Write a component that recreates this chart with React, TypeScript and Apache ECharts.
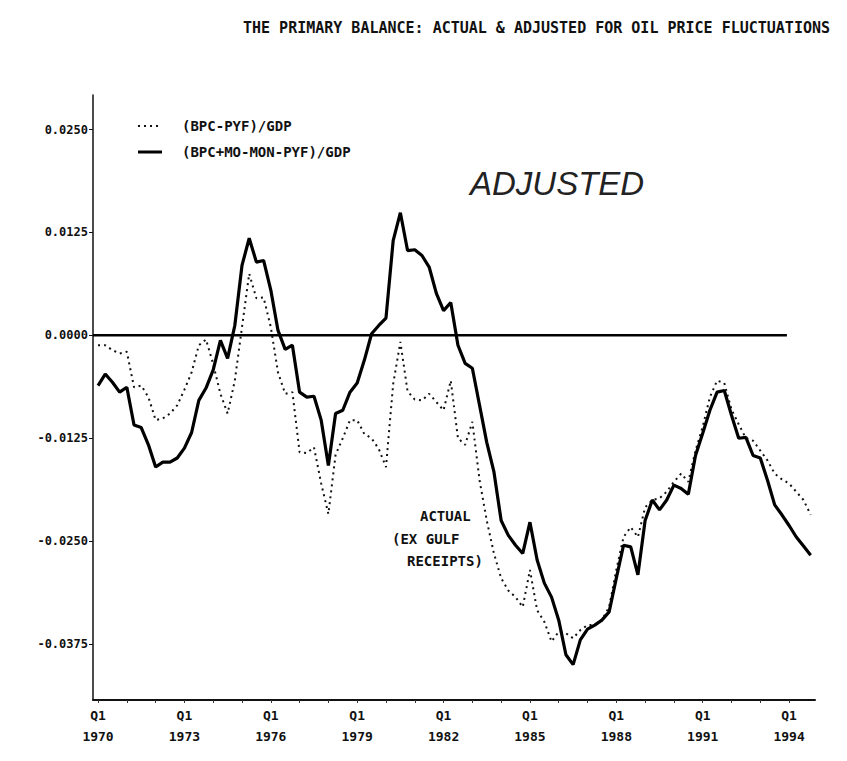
import React, { useEffect, useRef } from "react";
import * as echarts from "echarts";

// Quarter index 0 = 1970 Q1 ... 99 = 1994 Q4
const actualValues = [
  -0.0012, -0.0012, -0.0018, -0.0022, -0.002, -0.0063, -0.0061, -0.0075, -0.0103, -0.0101,
  -0.0095, -0.0085, -0.0066, -0.0045, -0.0012, -0.0005, -0.0035, -0.0071, -0.0095, -0.0055,
  0.001, 0.0075, 0.0045, 0.0046, 0.001, -0.0045, -0.0071, -0.0069, -0.0142, -0.0143,
  -0.0136, -0.018, -0.0217, -0.0145, -0.0125, -0.0103, -0.0103, -0.012, -0.0125, -0.0138,
  -0.016, -0.0059, -0.0008, -0.0068, -0.0078, -0.0079, -0.0071, -0.0081, -0.0091, -0.0055,
  -0.0125, -0.0133, -0.0105, -0.0176, -0.0225, -0.0265, -0.0295, -0.031, -0.0318, -0.033,
  -0.0285, -0.0334, -0.0348, -0.0372, -0.036, -0.0362, -0.0368, -0.0358, -0.0352, -0.0352,
  -0.0346, -0.033, -0.0285, -0.0245, -0.0233, -0.0245, -0.0209, -0.02, -0.0198, -0.019,
  -0.0178, -0.0168, -0.0178, -0.014, -0.0111, -0.0075, -0.0055, -0.0058, -0.009, -0.0108,
  -0.0125, -0.0128, -0.014, -0.0152, -0.0168, -0.0175, -0.018, -0.019, -0.02, -0.0218,
];

const adjustedValues = [
  -0.0061, -0.0047, -0.0057, -0.0069, -0.0063, -0.0109, -0.0112, -0.0133, -0.016, -0.0154,
  -0.0154, -0.0149, -0.0137, -0.0118, -0.0079, -0.0064, -0.0042, -0.0006, -0.0028, 0.0012,
  0.0085, 0.0118, 0.0089, 0.0091, 0.0055, 0.0006, -0.0017, -0.0012, -0.0069, -0.0075,
  -0.0074, -0.0103, -0.0158, -0.0095, -0.0091, -0.0069, -0.0058, -0.003, 0.0002, 0.0012,
  0.0021, 0.0115, 0.0149, 0.0103, 0.0104, 0.0097, 0.0083, 0.0051, 0.003, 0.004,
  -0.0012, -0.0034, -0.004, -0.0085, -0.013, -0.0166, -0.0225, -0.0243, -0.0255, -0.0265,
  -0.0227, -0.0273, -0.0301, -0.0318, -0.0346, -0.0388, -0.04, -0.037, -0.0357, -0.0352,
  -0.0346, -0.0336, -0.0295, -0.0255, -0.0257, -0.0291, -0.0225, -0.02, -0.0212, -0.02,
  -0.0182, -0.0186, -0.0193, -0.0146, -0.0119, -0.0091, -0.0069, -0.0067, -0.0097, -0.0125,
  -0.0124, -0.0146, -0.0149, -0.0176, -0.0206, -0.0218, -0.0231, -0.0245, -0.0256, -0.0267,
];

const seriesNames = ["(BPC-PYF)/GDP", "(BPC+MO-MON-PYF)/GDP"];
const xLabelQuarters = [0, 12, 24, 36, 48, 60, 72, 84, 96];
const xLabelYears = ["1970", "1973", "1976", "1979", "1982", "1985", "1988", "1991", "1994"];
const xTickQuarters = [0, 4, 8, 12, 16, 20, 24, 28, 32, 36, 40, 44, 48, 52, 56, 60, 64, 68, 72, 76, 80, 84, 88, 92, 96];
const yTickValues = [-0.0375, -0.025, -0.0125, 0, 0.0125, 0.025];
const zeroLineRange = [-0.7, 95.7];

const MONO = "'DejaVu Sans Mono', 'Liberation Mono', monospace";
const DOTTED = [2, 4];

export default function App() {
  const ref = useRef<HTMLDivElement>(null);
  useEffect(() => {
    if (!ref.current) return;
    document.body.style.margin = "0";
    const chart = echarts.init(ref.current, null, { renderer: "svg" });
    const toPairs = (arr: number[]) => arr.map((v, i) => [i, v]);
    const labelMap: Record<number, string> = {};
    xLabelQuarters.forEach((q, k) => (labelMap[q] = "Q1\n" + xLabelYears[k]));
    chart.setOption({
      animation: false,
      backgroundColor: "#ffffff",
      grid: { left: 93, right: 32, top: 95, bottom: 61, containLabel: false },
      xAxis: {
        type: "value",
        min: -0.7,
        max: 99.6,
        splitLine: { show: false },
        axisLine: { show: true, onZero: false, lineStyle: { color: "#111", width: 2 } },
        axisTick: {
          show: true,
          customValues: xTickQuarters,
          length: 3,
          inside: false,
          lineStyle: { color: "#333", width: 1 },
        },
        axisLabel: {
          customValues: xLabelQuarters,
          formatter: (v: number) => labelMap[Math.round(v)] ?? "",
          fontFamily: MONO,
          fontWeight: "bold",
          fontSize: 13,
          lineHeight: 21,
          color: "#111",
          margin: 5,
        },
      },
      yAxis: {
        type: "value",
        min: -0.0443,
        max: 0.0292,
        splitLine: { show: false },
        axisLine: { show: true, onZero: false, lineStyle: { color: "#111", width: 1.5 } },
        axisTick: { show: true, customValues: yTickValues, length: 4, lineStyle: { color: "#111" } },
        axisLabel: {
          customValues: yTickValues,
          formatter: (v: number) => v.toFixed(4),
          fontFamily: MONO,
          fontWeight: "bold",
          fontSize: 12,
          color: "#111",
          margin: 5,
        },
      },
      graphic: [
        {
          type: "text",
          x: 243,
          y: 28,
          style: {
            text: "THE PRIMARY BALANCE: ACTUAL & ADJUSTED FOR OIL PRICE FLUCTUATIONS",
            font: `bold 15px ${MONO}`,
            fill: "#111",
            verticalAlign: "middle",
          },
        },
        // legend
        {
          type: "line",
          shape: { x1: 138, y1: 126, x2: 162, y2: 126 },
          style: { stroke: "#111", lineWidth: 2, lineDash: DOTTED },
        },
        {
          type: "text",
          x: 182,
          y: 126,
          style: { text: seriesNames[0], font: `bold 14px ${MONO}`, fill: "#111", verticalAlign: "middle" },
        },
        {
          type: "line",
          shape: { x1: 138, y1: 152, x2: 162, y2: 152 },
          style: { stroke: "#000", lineWidth: 3 },
        },
        {
          type: "text",
          x: 182,
          y: 152,
          style: { text: seriesNames[1], font: `bold 14px ${MONO}`, fill: "#111", verticalAlign: "middle" },
        },
        // annotations
        {
          type: "text",
          x: 470,
          y: 183,
          style: {
            text: "ADJUSTED",
            font: "italic 33px 'Liberation Sans', sans-serif",
            fill: "#222",
            verticalAlign: "middle",
          },
        },
        {
          type: "text",
          x: 420,
          y: 516,
          style: { text: "ACTUAL", font: `bold 14px ${MONO}`, fill: "#111", verticalAlign: "middle" },
        },
        {
          type: "text",
          x: 392,
          y: 539,
          style: { text: "(EX GULF", font: `bold 14px ${MONO}`, fill: "#111", verticalAlign: "middle" },
        },
        {
          type: "text",
          x: 407,
          y: 561,
          style: { text: "RECEIPTS)", font: `bold 14px ${MONO}`, fill: "#111", verticalAlign: "middle" },
        },
      ],
      series: [
        {
          name: seriesNames[0],
          type: "line",
          data: toPairs(actualValues),
          showSymbol: false,
          symbol: "none",
          lineStyle: { color: "#111", width: 2, type: DOTTED },
          z: 3,
        },
        {
          name: seriesNames[1],
          type: "line",
          data: toPairs(adjustedValues),
          showSymbol: false,
          symbol: "none",
          lineStyle: { color: "#000", width: 3.2, type: "solid" },
          z: 4,
        },
        {
          name: "zero",
          type: "line",
          data: zeroLineRange.map((x) => [x, 0]),
          showSymbol: false,
          symbol: "none",
          lineStyle: { color: "#000", width: 2.5 },
          silent: true,
          z: 2,
        },
      ],
    });
    return () => chart.dispose();
  }, []);
  return <div ref={ref} style={{ width: 847, height: 761 }} />;
}
